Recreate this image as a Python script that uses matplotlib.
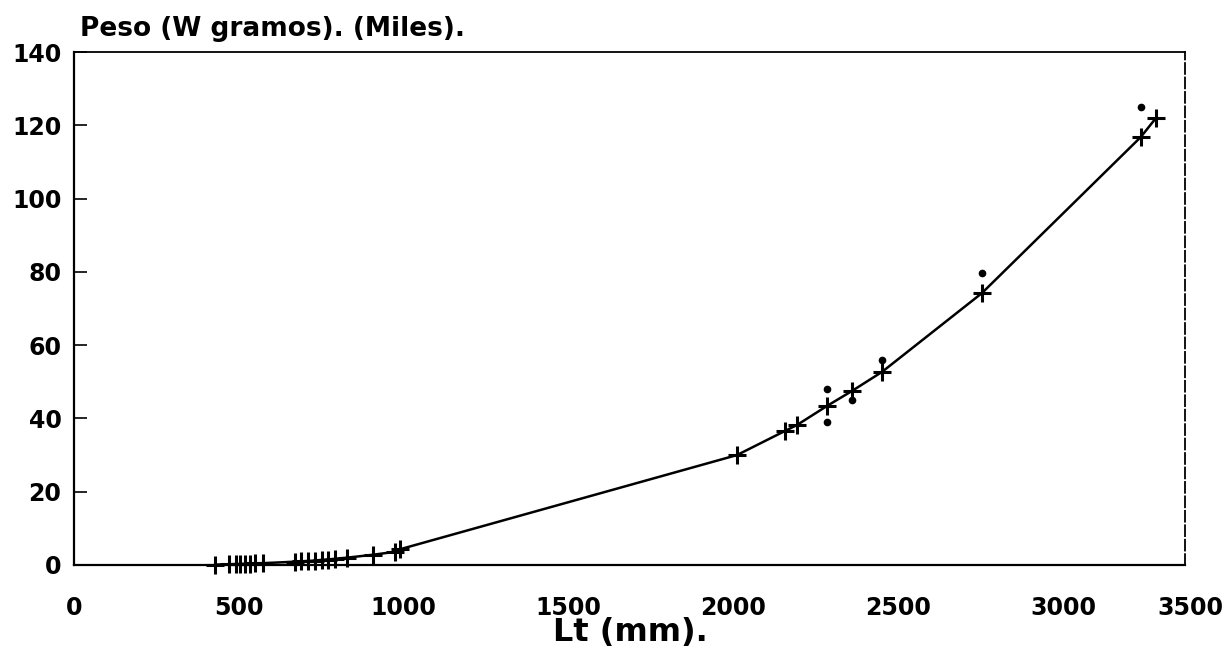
import matplotlib
matplotlib.use("Agg")
import matplotlib.pyplot as plt

# longitud total (mm) y peso ajustado (miles de gramos)
lt_fit = [428, 470, 490, 505, 520, 535, 550, 573, 670, 690, 710, 730, 752, 770,
          792, 828, 907, 974, 989, 2011, 2157, 2193, 2284, 2360, 2451, 2754,
          3236, 3282]
w_fit = [0.1, 0.2, 0.25, 0.3, 0.35, 0.4, 0.45, 0.5, 0.9, 1.0, 1.1, 1.2, 1.4, 1.5,
         1.7, 2.0, 2.8, 3.6, 4.3, 30.0, 36.6, 38.2, 43.4, 47.5, 52.7, 74.2,
         116.8, 122.0]

# valores observados
lt_obs = [2284, 2284, 2360, 2451, 2754, 3236]
w_obs = [48.0, 39.0, 45.0, 56.0, 79.7, 125.0]

x_ticks = [0, 500, 1000, 1500, 2000, 2500, 3000]
y_ticks = [0, 20, 40, 60, 80, 100, 120, 140]

plt.rcParams['font.family'] = ['DejaVu Sans']

fig = plt.figure(figsize=(12.28, 6.67), dpi=100)
ax = fig.add_axes([74/1228, 1-565/667, (1185-74)/1228, (565-52)/667])

ax.plot(lt_fit, w_fit, color='black', linewidth=1.8, marker='+',
        markersize=13, markeredgewidth=2.2, clip_on=False)
ax.plot(lt_obs, w_obs, linestyle='none', marker='o', color='black', markersize=4.5)

ax.set_xlim(0, 3370)
ax.set_ylim(0, 140)
ax.set_xticks(x_ticks)
ax.set_yticks(y_ticks)
ax.set_xticklabels([str(v) for v in x_ticks], fontsize=17, fontweight='bold')
ax.set_yticklabels([str(v) for v in y_ticks], fontsize=17, fontweight='bold')
ax.tick_params(axis='y', direction='in', length=9, width=1.2, pad=9)
ax.tick_params(axis='x', direction='in', length=0, pad=22)

# ultima etiqueta del eje x, desplazada como en el original
ax.annotate('3500', xy=(1.0, 0), xycoords='axes fraction', xytext=(4, -22),
            textcoords='offset points', ha='center', va='top',
            fontsize=17, fontweight='bold')

for side in ['left', 'bottom']:
    ax.spines[side].set_linewidth(1.6)
ax.spines['top'].set_linewidth(1.3)
ax.spines['right'].set_linewidth(1.3)
ax.spines['right'].set_linestyle((0, (6, 2)))

fig.text(80/1228, 1-29/667, 'Peso (W gramos). (Miles).', fontsize=19,
         fontweight='bold', ha='left', va='center')
fig.text(630/1228, 1-632/667, 'Lt (mm).', fontsize=23, fontweight='bold',
         ha='center', va='center')

fig.savefig('out.png', dpi=100, facecolor='white')
